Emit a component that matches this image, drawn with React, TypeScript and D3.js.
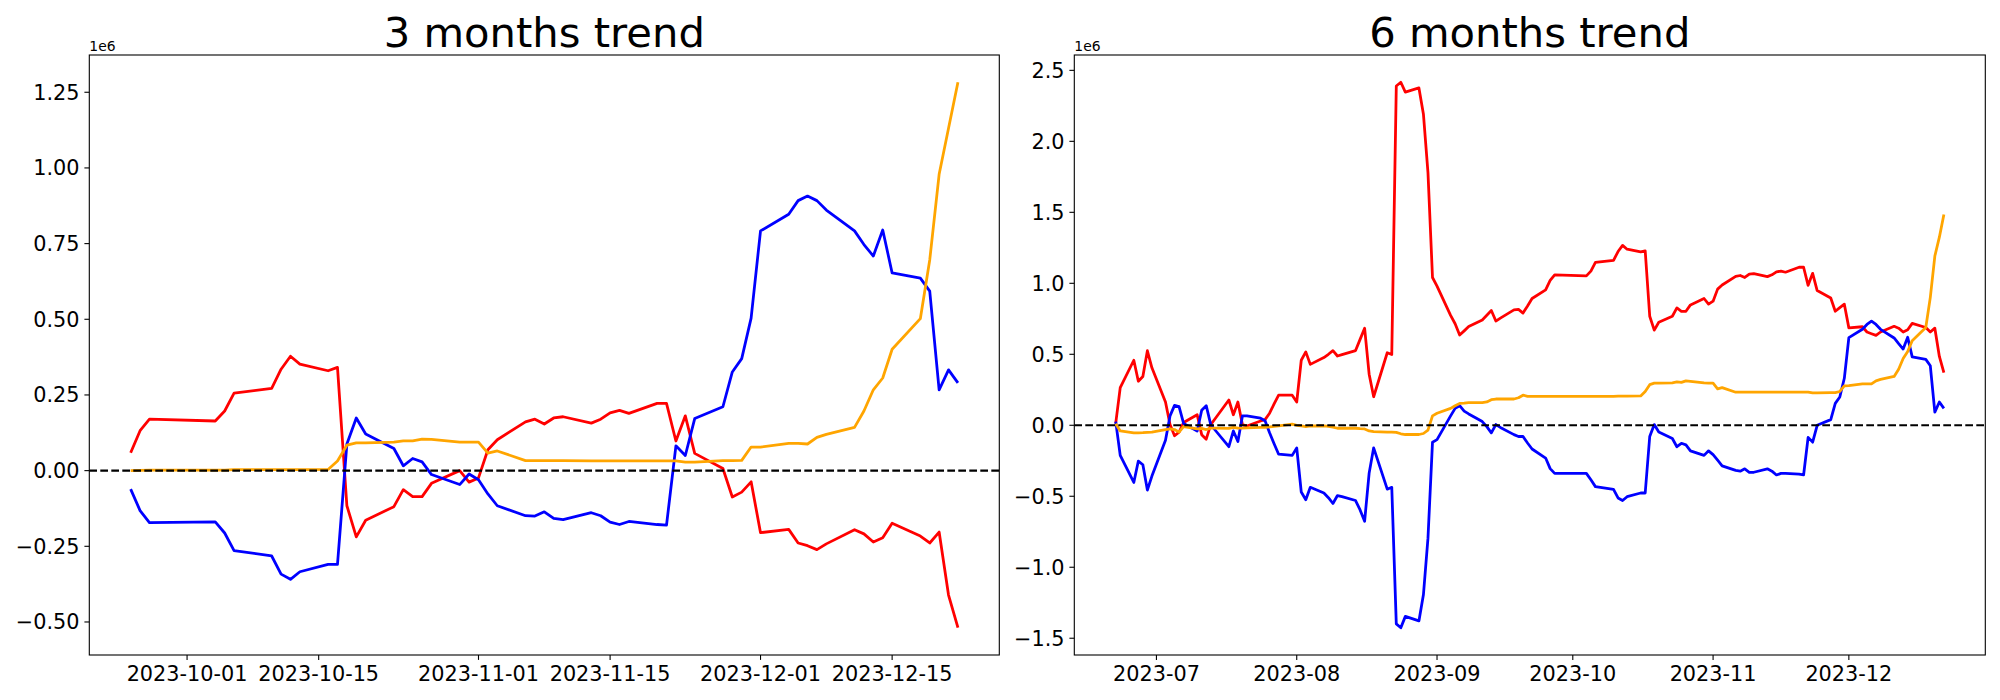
import React from 'react';
import * as d3 from 'd3';

// ---- 3 months (values in units of 1e6) ----
const dates3m = [
  '2023-09-25', '2023-09-26', '2023-09-27',
  '2023-10-04', '2023-10-05', '2023-10-06', '2023-10-10', '2023-10-11', '2023-10-12', '2023-10-13',
  '2023-10-16', '2023-10-17', '2023-10-18', '2023-10-19', '2023-10-20',
  '2023-10-23', '2023-10-24', '2023-10-25', '2023-10-26', '2023-10-27', '2023-10-30', '2023-10-31',
  '2023-11-01', '2023-11-02', '2023-11-03', '2023-11-06', '2023-11-07', '2023-11-08', '2023-11-09', '2023-11-10',
  '2023-11-13', '2023-11-14', '2023-11-15', '2023-11-16', '2023-11-17',
  '2023-11-20', '2023-11-21', '2023-11-22', '2023-11-23', '2023-11-24',
  '2023-11-27', '2023-11-28', '2023-11-29', '2023-11-30',
  '2023-12-01', '2023-12-04', '2023-12-05', '2023-12-06', '2023-12-07', '2023-12-08',
  '2023-12-11', '2023-12-12', '2023-12-13', '2023-12-14', '2023-12-15',
  '2023-12-18', '2023-12-19', '2023-12-20', '2023-12-21', '2023-12-22',
];
const red3m = [
  0.059, 0.132, 0.170,
  0.164, 0.197, 0.256, 0.272, 0.335, 0.378, 0.352,
  0.330, 0.341, -0.116, -0.219, -0.164,
  -0.119, -0.063, -0.086, -0.086, -0.042, 0.000, -0.038,
  -0.024, 0.069, 0.102, 0.161, 0.170, 0.154, 0.174, 0.178,
  0.157, 0.170, 0.191, 0.199, 0.189,
  0.222, 0.222, 0.098, 0.181, 0.057,
  0.007, -0.087, -0.071, -0.037,
  -0.205, -0.194, -0.239, -0.248, -0.261, -0.242,
  -0.195, -0.209, -0.236, -0.222, -0.174,
  -0.216, -0.239, -0.203, -0.411, -0.519,
];
const blue3m = [
  -0.061, -0.132, -0.172,
  -0.169, -0.206, -0.264, -0.282, -0.342, -0.359, -0.334,
  -0.310, -0.310, 0.088, 0.174, 0.121,
  0.073, 0.016, 0.040, 0.029, -0.013, -0.046, -0.011,
  -0.030, -0.077, -0.116, -0.149, -0.150, -0.136, -0.158, -0.162,
  -0.139, -0.149, -0.170, -0.178, -0.168,
  -0.178, -0.180, 0.082, 0.050, 0.172,
  0.211, 0.326, 0.370, 0.504,
  0.792, 0.847, 0.892, 0.907, 0.892, 0.861,
  0.792, 0.747, 0.709, 0.795, 0.653,
  0.636, 0.593, 0.267, 0.333, 0.290,
];
const orange3m = [
  0.000, 0.001, 0.002,
  0.002, 0.002, 0.003, 0.003, 0.003, 0.003, 0.003,
  0.004, 0.032, 0.084, 0.092, 0.092,
  0.094, 0.098, 0.098, 0.104, 0.103, 0.094, 0.094,
  0.094, 0.058, 0.065, 0.033, 0.033, 0.033, 0.033, 0.033,
  0.032, 0.032, 0.032, 0.032, 0.032,
  0.032, 0.032, 0.032, 0.028, 0.028,
  0.033, 0.033, 0.034, 0.078,
  0.078, 0.090, 0.090, 0.088, 0.110, 0.120,
  0.143, 0.197, 0.267, 0.306, 0.401,
  0.502, 0.696, 0.979, 1.131, 1.283,
];
const xTicks3m = ['2023-10-01', '2023-10-15', '2023-11-01', '2023-11-15', '2023-12-01', '2023-12-15'];
const yTicks3m = [-0.5, -0.25, 0, 0.25, 0.5, 0.75, 1.0, 1.25];

// ---- 6 months (values in units of 1e6) ----
const dates6m = [
  '2023-06-22', '2023-06-23', '2023-06-26', '2023-06-27', '2023-06-28', '2023-06-29', '2023-06-30',
  '2023-07-03', '2023-07-04', '2023-07-05', '2023-07-06', '2023-07-07',
  '2023-07-10', '2023-07-11', '2023-07-12', '2023-07-13', '2023-07-14',
  '2023-07-17', '2023-07-18', '2023-07-19', '2023-07-20', '2023-07-21',
  '2023-07-24', '2023-07-25', '2023-07-26', '2023-07-27', '2023-07-28', '2023-07-31',
  '2023-08-01', '2023-08-02', '2023-08-03', '2023-08-04',
  '2023-08-07', '2023-08-08', '2023-08-09', '2023-08-10', '2023-08-11',
  '2023-08-14', '2023-08-15', '2023-08-16', '2023-08-17', '2023-08-18',
  '2023-08-21', '2023-08-22', '2023-08-23', '2023-08-24', '2023-08-25',
  '2023-08-28', '2023-08-29', '2023-08-30', '2023-08-31',
  '2023-09-01', '2023-09-04', '2023-09-05', '2023-09-06', '2023-09-07', '2023-09-08',
  '2023-09-11', '2023-09-12', '2023-09-13', '2023-09-14', '2023-09-15',
  '2023-09-18', '2023-09-19', '2023-09-20', '2023-09-21', '2023-09-22',
  '2023-09-25', '2023-09-26', '2023-09-27',
  '2023-10-04', '2023-10-05', '2023-10-06', '2023-10-10', '2023-10-11', '2023-10-12', '2023-10-13',
  '2023-10-16', '2023-10-17', '2023-10-18', '2023-10-19', '2023-10-20',
  '2023-10-23', '2023-10-24', '2023-10-25', '2023-10-26', '2023-10-27', '2023-10-30', '2023-10-31',
  '2023-11-01', '2023-11-02', '2023-11-03', '2023-11-06', '2023-11-07', '2023-11-08', '2023-11-09', '2023-11-10',
  '2023-11-13', '2023-11-14', '2023-11-15', '2023-11-16', '2023-11-17',
  '2023-11-20', '2023-11-21', '2023-11-22', '2023-11-23', '2023-11-24',
  '2023-11-27', '2023-11-28', '2023-11-29', '2023-11-30',
  '2023-12-01', '2023-12-04', '2023-12-05', '2023-12-06', '2023-12-07', '2023-12-08',
  '2023-12-11', '2023-12-12', '2023-12-13', '2023-12-14', '2023-12-15',
  '2023-12-18', '2023-12-19', '2023-12-20', '2023-12-21', '2023-12-22',
];
const red6m = [
  0.013, 0.265, 0.458, 0.310, 0.344, 0.525, 0.405,
  0.164, 0.005, -0.074, -0.048, 0.019,
  0.074, -0.066, -0.098, 0.005, 0.048,
  0.178, 0.074, 0.164, 0.005, -0.005,
  0.030, 0.040, 0.085, 0.150, 0.212, 0.212,
  0.164, 0.458, 0.517, 0.429,
  0.477, 0.500, 0.526, 0.488, 0.498,
  0.526, 0.605, 0.684, 0.360, 0.201,
  0.511, 0.498, 2.390, 2.416, 2.347,
  2.376, 2.190, 1.780, 1.041,
  0.980, 0.774, 0.715, 0.636, 0.665, 0.695,
  0.742, 0.775, 0.808, 0.734, 0.755,
  0.813, 0.816, 0.790, 0.840, 0.893,
  0.954, 1.020, 1.060,
  1.052, 1.086, 1.147, 1.161, 1.224, 1.267, 1.240,
  1.221, 1.229, 0.768, 0.670, 0.726,
  0.768, 0.827, 0.803, 0.803, 0.848, 0.893, 0.853,
  0.874, 0.959, 0.988, 1.049, 1.055, 1.041, 1.065, 1.068,
  1.047, 1.060, 1.081, 1.086, 1.078,
  1.113, 1.113, 0.986, 1.070, 0.949,
  0.896, 0.803, 0.829, 0.853,
  0.686, 0.694, 0.657, 0.645, 0.633, 0.657,
  0.697, 0.684, 0.657, 0.673, 0.718,
  0.689, 0.657, 0.684, 0.485, 0.371,
];
const blue6m = [
  0.026, -0.212, -0.403, -0.252, -0.278, -0.456, -0.358,
  -0.106, 0.066, 0.140, 0.132, 0.013,
  -0.040, 0.106, 0.138, 0.005, -0.035,
  -0.151, -0.040, -0.114, 0.066, 0.066,
  0.050, 0.032, -0.053, -0.130, -0.204, -0.212,
  -0.159, -0.470, -0.524, -0.437,
  -0.477, -0.510, -0.551, -0.495, -0.503,
  -0.530, -0.596, -0.676, -0.337, -0.159,
  -0.450, -0.437, -1.399, -1.426, -1.346,
  -1.378, -1.192, -0.795, -0.119,
  -0.101, 0.066, 0.119, 0.138, 0.100, 0.080,
  0.026, -0.010, -0.053, 0.005, -0.015,
  -0.066, -0.079, -0.079, -0.125, -0.167,
  -0.231, -0.305, -0.339,
  -0.339, -0.384, -0.432, -0.451, -0.512, -0.530, -0.503,
  -0.477, -0.477, -0.079, 0.005, -0.048,
  -0.093, -0.151, -0.127, -0.138, -0.180, -0.212, -0.180,
  -0.207, -0.246, -0.286, -0.318, -0.323, -0.307, -0.331, -0.331,
  -0.307, -0.323, -0.350, -0.339, -0.339,
  -0.344, -0.350, -0.085, -0.119, 0.000,
  0.040, 0.154, 0.199, 0.331,
  0.617, 0.676, 0.710, 0.734, 0.710, 0.676,
  0.615, 0.575, 0.537, 0.620, 0.482,
  0.464, 0.419, 0.093, 0.164, 0.119,
];
const orange6m = [
  0.010, -0.040, -0.054, -0.053, -0.052, -0.050, -0.048,
  -0.030, -0.025, -0.030, -0.048, -0.010,
  -0.025, -0.022, -0.030, -0.020, -0.020,
  -0.022, -0.015, -0.020, -0.020, -0.018,
  -0.015, -0.015, -0.012, -0.008, -0.005, 0.008,
  0.000, -0.005, -0.010, -0.005,
  -0.005, -0.008, -0.013, -0.021, -0.021,
  -0.021, -0.024, -0.026, -0.040, -0.045,
  -0.048, -0.048, -0.050, -0.060, -0.065,
  -0.065, -0.058, -0.034, 0.066,
  0.085, 0.119, 0.138, 0.154, 0.156, 0.159,
  0.159, 0.164, 0.180, 0.185, 0.185,
  0.185, 0.194, 0.212, 0.204, 0.204,
  0.204, 0.204, 0.204,
  0.204, 0.204, 0.204, 0.204, 0.205, 0.205, 0.206,
  0.207, 0.238, 0.286, 0.297, 0.297,
  0.299, 0.305, 0.302, 0.313, 0.310, 0.299, 0.297,
  0.297, 0.257, 0.265, 0.233, 0.233, 0.233, 0.233, 0.233,
  0.233, 0.233, 0.233, 0.233, 0.233,
  0.233, 0.233, 0.233, 0.228, 0.228,
  0.230, 0.230, 0.238, 0.278,
  0.280, 0.291, 0.291, 0.291, 0.313, 0.323,
  0.344, 0.395, 0.470, 0.520, 0.596,
  0.689, 0.901, 1.192, 1.325, 1.484,
];
const xTicks6m = ['2023-07-01', '2023-08-01', '2023-09-01', '2023-10-01', '2023-11-01', '2023-12-01'];
const yTicks6m = [-1.5, -1.0, -0.5, 0, 0.5, 1.0, 1.5, 2.0, 2.5];

const FONT = "'DejaVu Sans', sans-serif";
const TICK_FS = 20.8;
const TICK_LEN = 4.9;
const PAD = 4.9;
const LW = 2.78;
const parse = d3.utcParse('%Y-%m-%d');
const minus = (s: string) => s.replace('-', '\u2212');

interface Series { values: number[]; color: string; }

interface PanelProps {
  x0: number; x1: number; y0: number; y1: number;
  title: string;
  dates: string[];
  series: Series[];
  xTicks: string[];
  xFormat: string;
  yTicks: number[];
  yDigits: number;
}

const Panel = ({ x0, x1, y0, y1, title, dates, series, xTicks, xFormat, yTicks, yDigits }: PanelProps) => {
  const t = dates.map(d => parse(d)!);
  const [tMin, tMax] = d3.extent(t) as [Date, Date];
  const span = +tMax - +tMin;
  const x = d3.scaleUtc()
    .domain([new Date(+tMin - span * 0.05), new Date(+tMax + span * 0.05)])
    .range([x0, x1]);

  const all = series.flatMap(s => s.values);
  const [vMin, vMax] = d3.extent(all) as [number, number];
  const vSpan = vMax - vMin;
  const y = d3.scaleLinear()
    .domain([vMin - vSpan * 0.05, vMax + vSpan * 0.05])
    .range([y1, y0]);

  const line = d3.line<number>()
    .x((_, i) => x(t[i]))
    .y(d => y(d));

  const fmtX = d3.utcFormat(xFormat);

  return (
    <g>
      <text x={(x0 + x1) / 2} y={y0 - 8} textAnchor="middle" fontSize={41.7} fontFamily={FONT}>{title}</text>
      <text x={x0} y={y0 - 4} fontSize={13.9} fontFamily={FONT}>1e6</text>

      {series.map((s, i) => (
        <path key={i} d={line(s.values) || ''} fill="none" stroke={s.color}
          strokeWidth={LW} strokeLinejoin="round" />
      ))}

      <line x1={x0} x2={x1} y1={y(0)} y2={y(0)} stroke="black" strokeWidth={2.08} strokeDasharray="7.7 3.3" />

      <rect x={x0} y={y0} width={x1 - x0} height={y1 - y0} fill="none" stroke="black" strokeWidth={1.1} />

      {xTicks.map(s => {
        const d = parse(s)!;
        const px = x(d);
        return (
          <g key={s}>
            <line x1={px} x2={px} y1={y1} y2={y1 + TICK_LEN} stroke="black" strokeWidth={1.1} />
            <text x={px} y={y1 + TICK_LEN + PAD + 15.8} textAnchor="middle" fontSize={TICK_FS} fontFamily={FONT}>{fmtX(d)}</text>
          </g>
        );
      })}

      {yTicks.map(v => {
        const py = y(v);
        return (
          <g key={v}>
            <line x1={x0 - TICK_LEN} x2={x0} y1={py} y2={py} stroke="black" strokeWidth={1.1} />
            <text x={x0 - TICK_LEN - PAD} y={py} dy="0.36em" textAnchor="end" fontSize={TICK_FS} fontFamily={FONT}>
              {minus(v.toFixed(yDigits))}
            </text>
          </g>
        );
      })}
    </g>
  );
};

const App = () => {
  return (
    <svg width={2000} height={700} style={{ position: 'absolute', left: 0, top: 0, background: 'white' }}>
      <rect width={2000} height={700} fill="white" />
      <Panel
        x0={89.3} x1={999.3} y0={55} y1={655}
        title="3 months trend"
        dates={dates3m}
        series={[
          { values: red3m, color: '#ff0000' },
          { values: blue3m, color: '#0000ff' },
          { values: orange3m, color: '#ffa500' },
        ]}
        xTicks={xTicks3m}
        xFormat="%Y-%m-%d"
        yTicks={yTicks3m}
        yDigits={2}
      />
      <Panel
        x0={1074.3} x1={1985.3} y0={55} y1={655}
        title="6 months trend"
        dates={dates6m}
        series={[
          { values: red6m, color: '#ff0000' },
          { values: blue6m, color: '#0000ff' },
          { values: orange6m, color: '#ffa500' },
        ]}
        xTicks={xTicks6m}
        xFormat="%Y-%m"
        yTicks={yTicks6m}
        yDigits={1}
      />
    </svg>
  );
};

export default App;
